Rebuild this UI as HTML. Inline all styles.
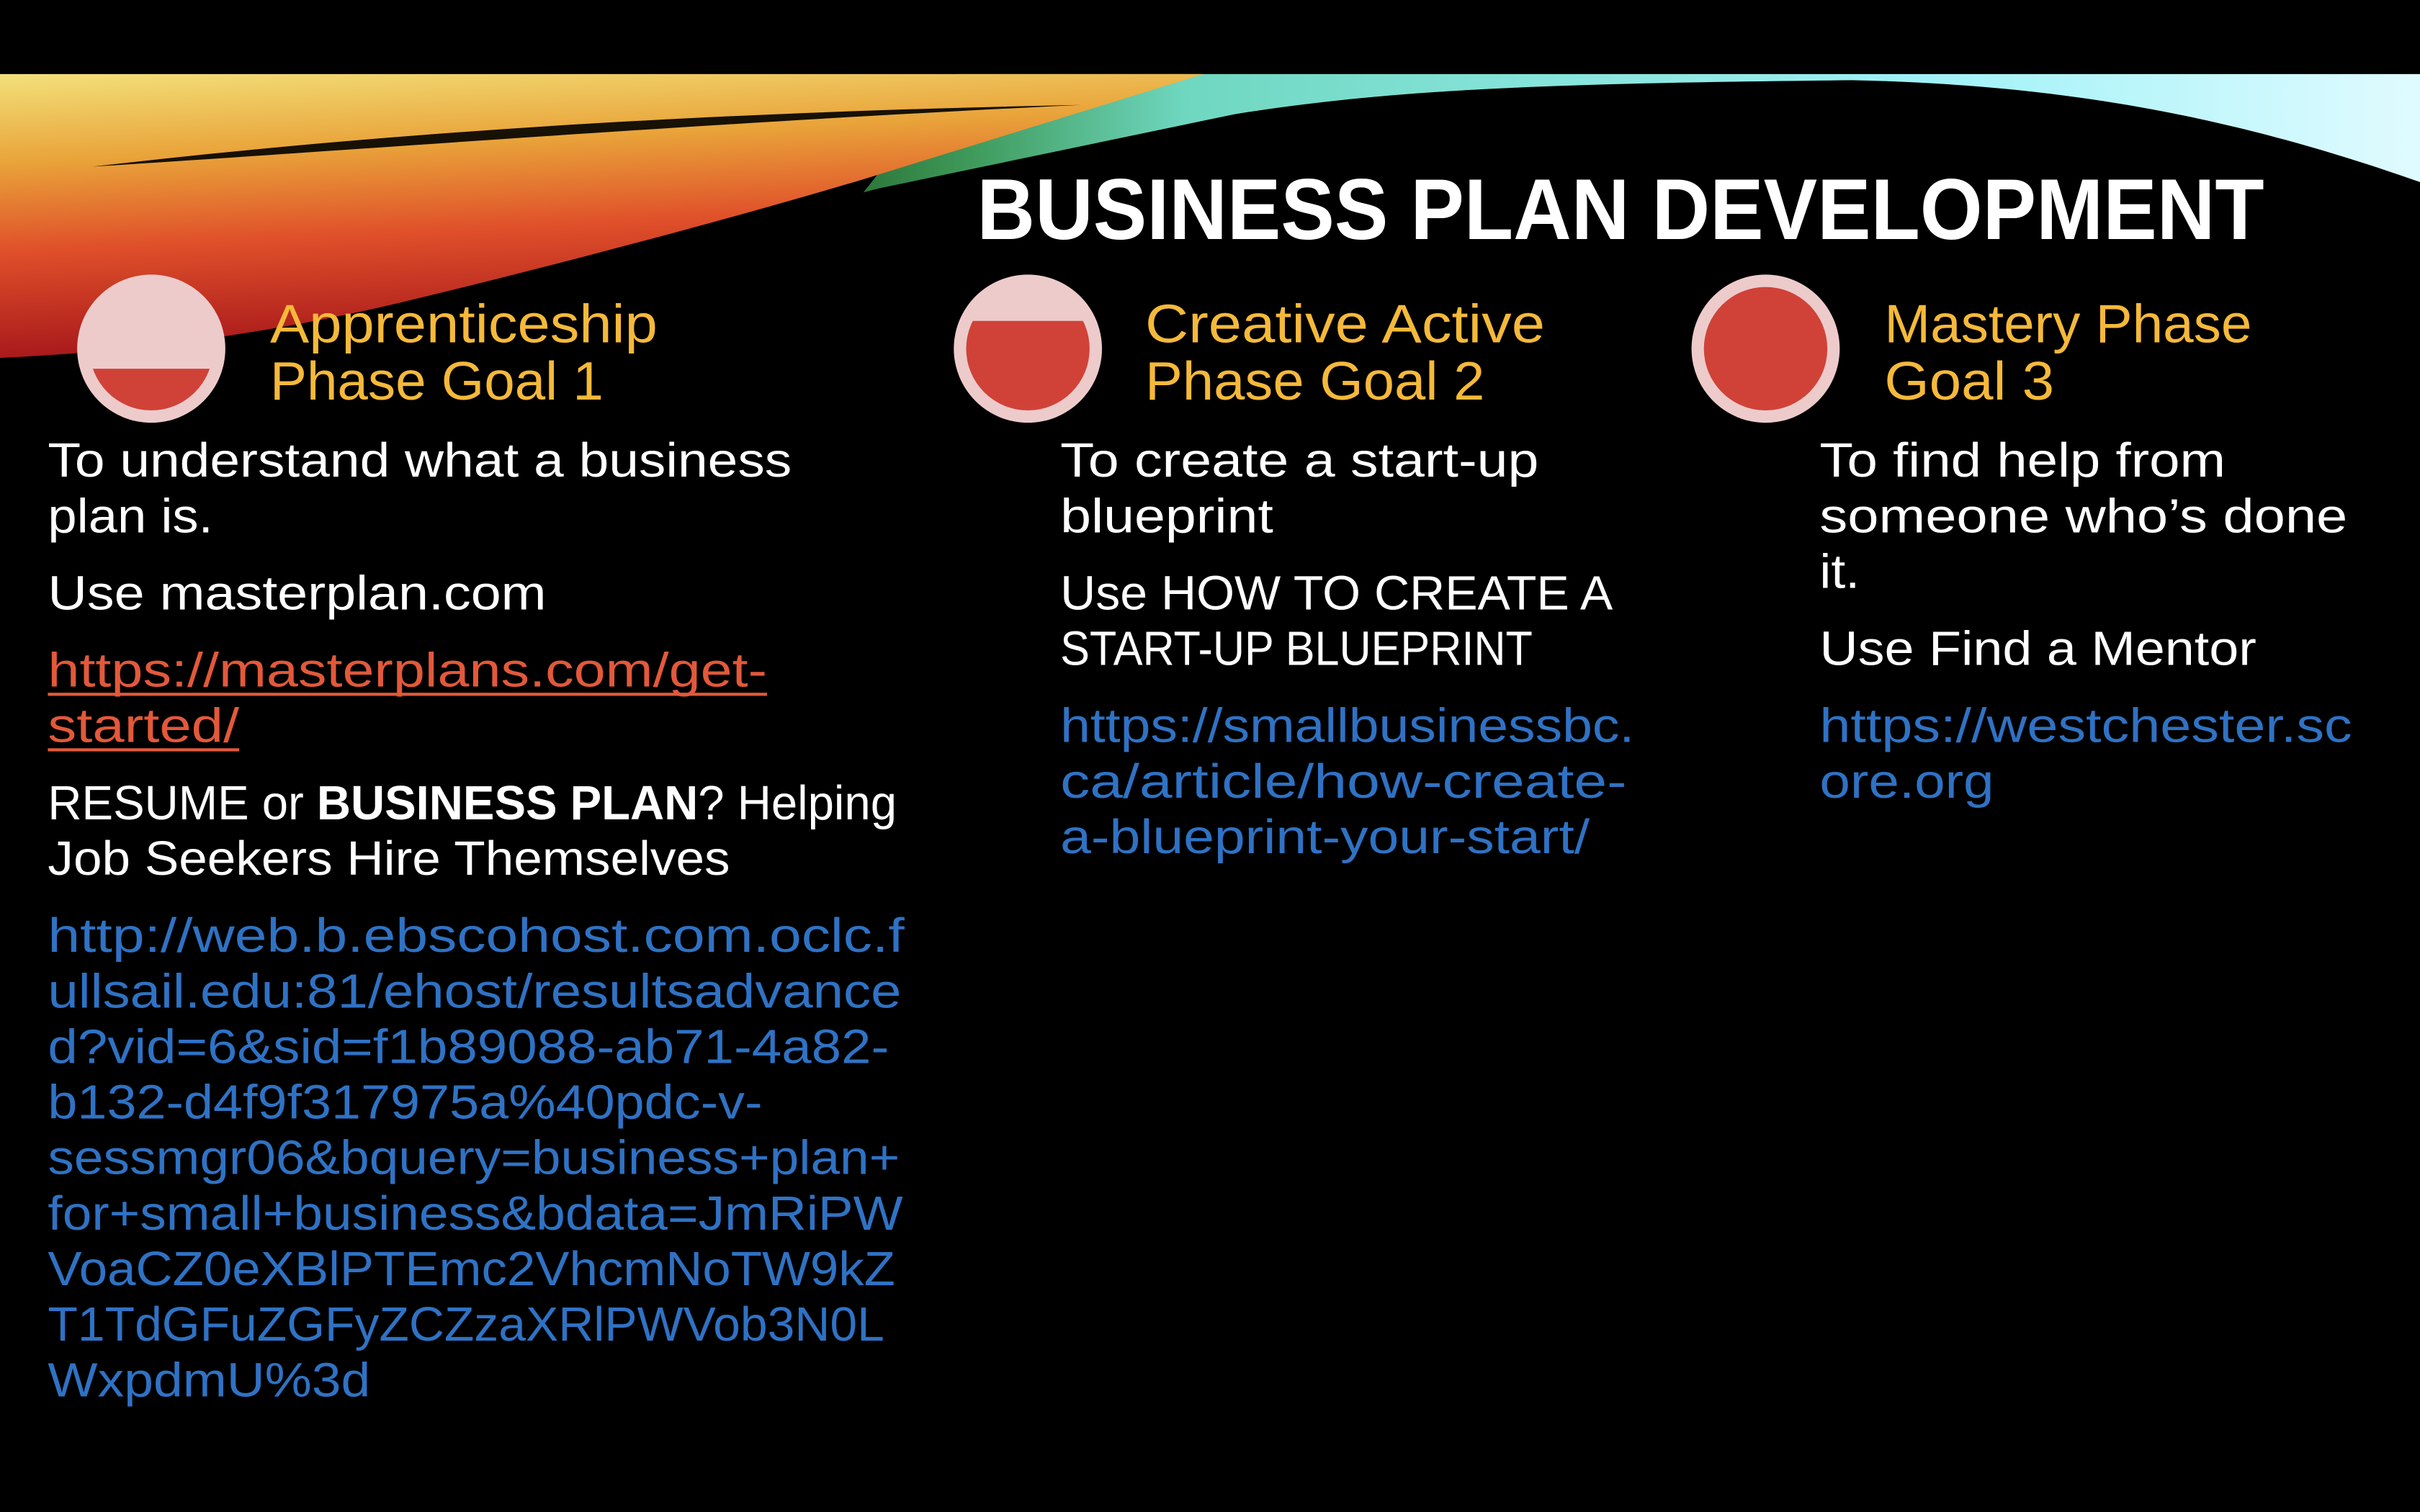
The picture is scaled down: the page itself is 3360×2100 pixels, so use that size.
<!DOCTYPE html>
<html><head><meta charset="utf-8"><style>
html,body{margin:0;padding:0;background:#000;width:3360px;height:2100px;overflow:hidden}
svg{display:block}
text{font-family:"Liberation Sans","DejaVu Sans",sans-serif}
</style></head><body>
<svg width="3360" height="2100" viewBox="0 0 1568 980" xmlns="http://www.w3.org/2000/svg">
<defs>
<linearGradient id="warm" x1="0" y1="0" x2="0.2" y2="1">
<stop offset="0" stop-color="#f3e07a"/>
<stop offset="0.3" stop-color="#e9a43a"/>
<stop offset="0.6" stop-color="#e0502a"/>
<stop offset="1" stop-color="#a3141a"/>
</linearGradient>
<linearGradient id="cool" x1="0" y1="0" x2="1" y2="0">
<stop offset="0" stop-color="#1f5a22"/>
<stop offset="0.12" stop-color="#3e9a5a"/>
<stop offset="0.25" stop-color="#6fd7c0"/>
<stop offset="0.7" stop-color="#9ff2f7"/>
<stop offset="1" stop-color="#e0fbff"/>
</linearGradient>
</defs>
<rect width="1568" height="980" fill="#000"/>
<!-- cool swoosh underneath -->
<path d="M620,48 L1568,48 L1568,200 L500,200 Z" fill="url(#cool)"/>
<!-- black below cool band -->
<path d="M0,300 L0,240 L265,200 L570,122 L800,74 C900,58 1000,54 1200,52 C1350,55 1460,80 1568,118 L1568,300 Z" fill="#000"/>
<!-- warm swoosh -->
<path d="M0,48 L780,48 L560,116 C480,140 360,172 260,196 C180,215 90,228 0,232 Z" fill="url(#warm)"/>
<path d="M60,108 C250,86 450,73 700,68 C450,80 250,96 60,108 Z" fill="#000" opacity="0.9"/>
<!-- title -->
<text x="633" y="155" font-size="56" font-weight="bold" fill="#fff" textLength="834" lengthAdjust="spacingAndGlyphs">BUSINESS PLAN DEVELOPMENT</text>
<!-- circles -->
<clipPath id="c1"><circle cx="98" cy="226" r="40"/></clipPath>
<circle cx="98" cy="226" r="48" fill="#edcbcb"/>
<rect x="50" y="239" width="100" height="60" fill="#d04238" clip-path="url(#c1)"/>
<clipPath id="c2"><circle cx="666" cy="226" r="40"/></clipPath>
<circle cx="666" cy="226" r="48" fill="#edcbcb"/>
<rect x="618" y="208" width="100" height="80" fill="#d04238" clip-path="url(#c2)"/>
<circle cx="1144" cy="226" r="48" fill="#edcbcb"/>
<circle cx="1144" cy="226" r="40" fill="#d04238"/>
<!-- headings -->
<g fill="#f5b93a" font-size="35">
<text x="175" y="222" textLength="251" lengthAdjust="spacingAndGlyphs">Apprenticeship</text>
<text x="175" y="259" textLength="216" lengthAdjust="spacingAndGlyphs">Phase Goal 1</text>
<text x="742" y="222" textLength="259" lengthAdjust="spacingAndGlyphs">Creative Active</text>
<text x="742" y="259" textLength="220" lengthAdjust="spacingAndGlyphs">Phase Goal 2</text>
<text x="1221" y="222" textLength="238" lengthAdjust="spacingAndGlyphs">Mastery Phase</text>
<text x="1221" y="259" textLength="110" lengthAdjust="spacingAndGlyphs">Goal 3</text>
</g>
<!-- col 1 -->
<g font-size="31" fill="#fff">
<text x="31" y="309" textLength="482" lengthAdjust="spacingAndGlyphs">To understand what a business</text>
<text x="31" y="345" textLength="107" lengthAdjust="spacingAndGlyphs">plan is.</text>
<text x="31" y="395" textLength="323" lengthAdjust="spacingAndGlyphs">Use masterplan.com</text>
<text x="31" y="445" fill="#e2593a" textLength="466" lengthAdjust="spacingAndGlyphs">https://masterplans.com/get-</text>
<text x="31" y="481" fill="#e2593a" textLength="124" lengthAdjust="spacingAndGlyphs">started/</text>
<text x="31" y="531" textLength="550" lengthAdjust="spacingAndGlyphs">RESUME or <tspan font-weight="bold">BUSINESS PLAN</tspan>? Helping</text>
<text x="31" y="567" textLength="442" lengthAdjust="spacingAndGlyphs">Job Seekers Hire Themselves</text>
</g>
<rect x="31" y="449" width="466" height="2" fill="#e2593a"/>
<rect x="31" y="485" width="124" height="2" fill="#e2593a"/>
<g font-size="31" fill="#2f72c4">
<text x="31" y="617" textLength="555" lengthAdjust="spacingAndGlyphs">http://web.b.ebscohost.com.oclc.f</text>
<text x="31" y="653" textLength="553" lengthAdjust="spacingAndGlyphs">ullsail.edu:81/ehost/resultsadvance</text>
<text x="31" y="689" textLength="545" lengthAdjust="spacingAndGlyphs">d?vid=6&amp;sid=f1b89088-ab71-4a82-</text>
<text x="31" y="725" textLength="463" lengthAdjust="spacingAndGlyphs">b132-d4f9f317975a%40pdc-v-</text>
<text x="31" y="761" textLength="552" lengthAdjust="spacingAndGlyphs">sessmgr06&amp;bquery=business+plan+</text>
<text x="31" y="797" textLength="554" lengthAdjust="spacingAndGlyphs">for+small+business&amp;bdata=JmRiPW</text>
<text x="31" y="833" textLength="549" lengthAdjust="spacingAndGlyphs">VoaCZ0eXBlPTEmc2VhcmNoTW9kZ</text>
<text x="31" y="869" textLength="542" lengthAdjust="spacingAndGlyphs">T1TdGFuZGFyZCZzaXRlPWVob3N0L</text>
<text x="31" y="905" textLength="209" lengthAdjust="spacingAndGlyphs">WxpdmU%3d</text>
</g>
<!-- col 2 -->
<g font-size="31" fill="#fff">
<text x="687" y="309" textLength="310" lengthAdjust="spacingAndGlyphs">To create a start-up</text>
<text x="687" y="345" textLength="138" lengthAdjust="spacingAndGlyphs">blueprint</text>
<text x="687" y="395" textLength="358" lengthAdjust="spacingAndGlyphs">Use HOW TO CREATE A</text>
<text x="687" y="431" textLength="306" lengthAdjust="spacingAndGlyphs">START-UP BLUEPRINT</text>
<text x="687" y="481" fill="#2f72c4" textLength="372" lengthAdjust="spacingAndGlyphs">https://smallbusinessbc.</text>
<text x="687" y="517" fill="#2f72c4" textLength="367" lengthAdjust="spacingAndGlyphs">ca/article/how-create-</text>
<text x="687" y="553" fill="#2f72c4" textLength="343" lengthAdjust="spacingAndGlyphs">a-blueprint-your-start/</text>
</g>
<!-- col 3 -->
<g font-size="31" fill="#fff">
<text x="1179" y="309" textLength="263" lengthAdjust="spacingAndGlyphs">To find help from</text>
<text x="1179" y="345" textLength="342" lengthAdjust="spacingAndGlyphs">someone who’s done</text>
<text x="1179" y="381" textLength="26" lengthAdjust="spacingAndGlyphs">it.</text>
<text x="1179" y="431" textLength="283" lengthAdjust="spacingAndGlyphs">Use Find a Mentor</text>
<text x="1179" y="481" fill="#2f72c4" textLength="345" lengthAdjust="spacingAndGlyphs">https://westchester.sc</text>
<text x="1179" y="517" fill="#2f72c4" textLength="113" lengthAdjust="spacingAndGlyphs">ore.org</text>
</g>
</svg>
</body></html>
